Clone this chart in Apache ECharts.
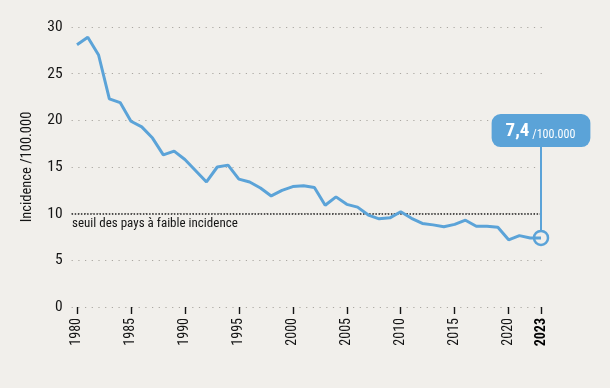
<!DOCTYPE html>
<html><head><meta charset="utf-8">
<script src="https://cdn.jsdelivr.net/npm/echarts@6/dist/echarts.min.js"></script>
<style>html,body{margin:0;padding:0;background:#f1efeb;}#c{width:610px;height:388px;}</style>
</head><body><div id="c"></div>
<script>
var years = [1980,1981,1982,1983,1984,1985,1986,1987,1988,1989,1990,1991,1992,1993,1994,1995,1996,1997,1998,1999,2000,2001,2002,2003,2004,2005,2006,2007,2008,2009,2010,2011,2012,2013,2014,2015,2016,2017,2018,2019,2020,2021,2022,2023];
var incidence = [28.1,28.9,27.0,22.3,21.9,19.9,19.3,18.1,16.3,16.7,15.8,14.6,13.4,15.0,15.2,13.7,13.4,12.75,11.9,12.5,12.9,13.0,12.8,10.9,11.8,11.0,10.7,9.85,9.45,9.55,10.2,9.5,8.95,8.8,8.6,8.85,9.3,8.65,8.65,8.55,7.2,7.65,7.4,7.4];
var xTicks = [1980,1985,1990,1995,2000,2005,2010,2015,2020,2023];
var yTicks = [0,5,10,15,20,25,30];
var threshold = 10;
var lastYear = 2023, lastValue = 7.4;
var thresholdLabel = 'seuil des pays à faible incidence';
var calloutBig = '7,4', calloutSmall = '/100.000';
var yName = 'Incidence /100.000';

var FONT = '"Roboto Condensed","Open Sans",sans-serif';
var blue = '#5ba3d8';
var bg = '#f1efeb';
var ink = '#151515';
var chart = echarts.init(document.getElementById('c'));
chart.setOption({
  backgroundColor: bg,
  animation: false,
  grid: {left: 71.6, right: 63.6, top: 27, bottom: 81},
  xAxis: {
    type: 'value', min: 1979.5, max: 2023.5, offset: 8,
    axisLine: {show: false},
    splitLine: {show: false},
    axisTick: {show: true, length: 7, customValues: xTicks, lineStyle: {color: ink, width: 1.4}},
    axisLabel: {
      customValues: xTicks, rotate: 90, margin: 3,
      fontFamily: FONT, fontSize: 14, color: ink,
      formatter: function (v) { return v === lastYear ? '{b|' + v + '}' : String(v); },
      rich: {b: {fontFamily: FONT, fontSize: 14, fontWeight: 'bold', color: '#000'}}
    }
  },
  yAxis: {
    type: 'value', min: 0, max: 30, interval: 5,
    name: yName, nameLocation: 'middle', nameGap: 37, nameRotate: 90,
    nameTextStyle: {fontFamily: FONT, fontSize: 14.5, color: ink},
    axisLine: {show: false}, axisTick: {show: false},
    axisLabel: {fontFamily: FONT, fontSize: 15.5, color: ink, margin: 9,
      formatter: function (v) { return yTicks.indexOf(v) >= 0 ? String(v) : ''; }},
    splitLine: {show: true, lineStyle: {color: '#aaa7a1', type: [1.2, 5.5], width: 1.2}}
  },
  series: [{
    type: 'line',
    data: years.map(function (y, i) { return [y, incidence[i]]; }),
    showSymbol: false,
    lineStyle: {color: blue, width: 3},
    itemStyle: {color: blue},
    z: 5,
    markLine: {
      silent: true, symbol: 'none',
      data: [
        [{coord: [1979.5, threshold], lineStyle: {color: '#222', type: [1.5, 1.6], width: 1.5}},
         {coord: [lastYear, threshold]}],
        [{coord: [lastYear, lastValue], lineStyle: {color: blue, type: 'solid', width: 2}},
         {coord: [lastYear, 17.2]}]
      ],
      label: {show: false}
    },
    markPoint: {
      silent: true,
      data: [
        {coord: [lastYear, lastValue], symbol: 'circle', symbolSize: 14,
         itemStyle: {color: bg, borderColor: blue, borderWidth: 2.5},
         label: {show: false}},
        {coord: [lastYear, 18.9], symbol: 'rect', symbolSize: 0,
         label: {show: true, position: 'inside',
           formatter: '{big|' + calloutBig + '}{small| ' + calloutSmall + '}',
           backgroundColor: blue, borderRadius: 9, padding: [7, 15, 6, 14],
           rich: {
             big: {fontFamily: FONT, fontSize: 19, fontWeight: 'bold', color: '#fff', verticalAlign: 'bottom', lineHeight: 20},
             small: {fontFamily: FONT, fontSize: 12, color: '#fff', verticalAlign: 'bottom', lineHeight: 17}
           }}}
      ]
    }
  }],
  graphic: [{
    type: 'text', left: 72, top: 217,
    style: {text: thresholdLabel, fontFamily: FONT, fontSize: 13, fill: ink}
  }]
});
</script></body></html>
